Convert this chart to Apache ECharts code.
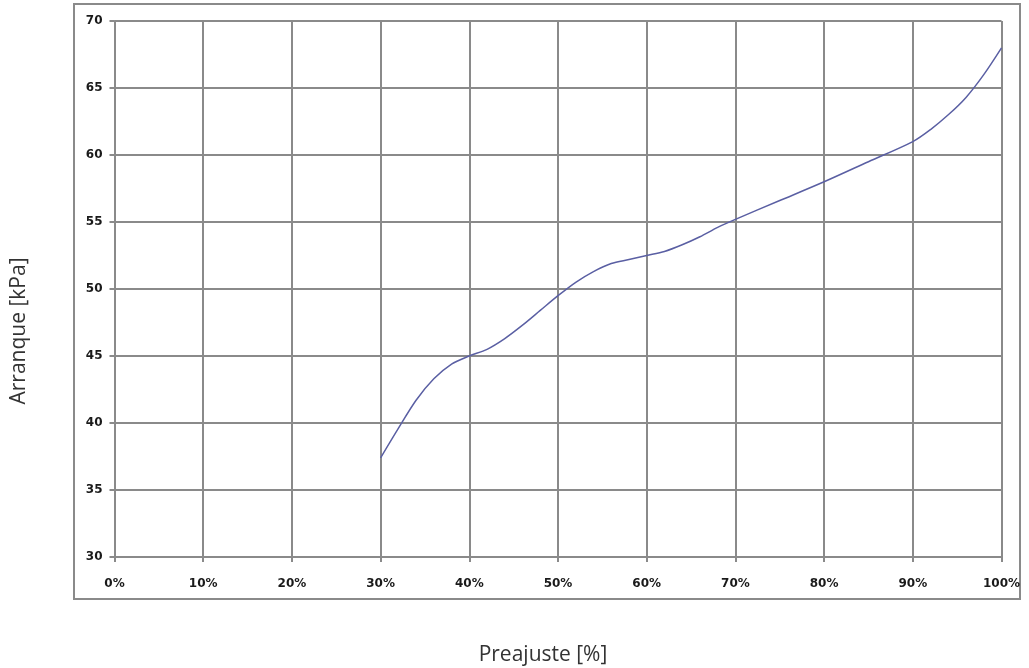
<!DOCTYPE html>
<html>
<head>
<meta charset="utf-8">
<script src="https://cdn.jsdelivr.net/npm/echarts@6/dist/echarts.min.js"></script>
<style>html,body{margin:0;padding:0;background:#fff}#c{width:1029px;height:668px}</style>
</head>
<body>
<div id="c"></div>
<script>
const preajuste = [30,32,34,36,38,40,42,44,46,48,50,52,54,56,58,60,62,64,66,68,70,75,80,85,90,92,94,96,98,100];
const arranque = [37.4,39.6,41.7,43.3,44.4,45.0,45.5,46.3,47.3,48.4,49.5,50.5,51.3,51.9,52.2,52.5,52.8,53.3,53.9,54.6,55.2,56.6,58.0,59.5,61.0,61.9,63.0,64.3,66.0,68.0];
const xName = 'Preajuste [%]';
const yName = 'Arranque [kPa]';

const chart = echarts.init(document.getElementById('c'));
const gridColor = '#8a8a8a';
const nameStyle = { fontFamily: 'Open Sans', fontSize: 21, fill: '#333', align: 'center', verticalAlign: 'middle' };
chart.setOption({
  animation: false,
  backgroundColor: '#fff',
  grid: { left: 114.5, top: 21, width: 887, height: 536, containLabel: false, outerBoundsMode: 'none' },
  graphic: [
    { type: 'rect', shape: { x: 74, y: 4, width: 946, height: 595 },
      style: { fill: 'none', stroke: '#8a8a8a', lineWidth: 2 }, silent: true, z: -1 },
    { type: 'text', x: 543, y: 655, style: Object.assign({ text: xName }, nameStyle), silent: true },
    { type: 'text', x: 19, y: 331, rotation: Math.PI / 2, style: Object.assign({ text: yName }, nameStyle), silent: true }
  ],
  xAxis: {
    type: 'value', min: 0, max: 100, interval: 10,
    axisLine: { show: true, lineStyle: { color: gridColor, width: 2 } },
    axisTick: { show: true, length: 5, lineStyle: { color: gridColor, width: 2 } },
    splitLine: { show: true, lineStyle: { color: gridColor, width: 2 } },
    axisLabel: { formatter: '{value}%', margin: 21, fontFamily: 'DejaVu Sans', fontWeight: 'bold', fontSize: 12, color: '#1a1a1a' }
  },
  yAxis: {
    type: 'value', min: 30, max: 70, interval: 5,
    axisLine: { show: true, lineStyle: { color: gridColor, width: 2 } },
    axisTick: { show: true, length: 5, lineStyle: { color: gridColor, width: 2 } },
    splitLine: { show: true, lineStyle: { color: gridColor, width: 2 } },
    axisLabel: { margin: 12, fontFamily: 'DejaVu Sans', fontWeight: 'bold', fontSize: 12, color: '#1a1a1a' }
  },
  series: [{
    type: 'line', smooth: 0.3, showSymbol: false,
    data: preajuste.map((x, i) => [x, arranque[i]]),
    lineStyle: { color: '#5a5fa3', width: 1.5 }
  }]
});
</script>
</body>
</html>
